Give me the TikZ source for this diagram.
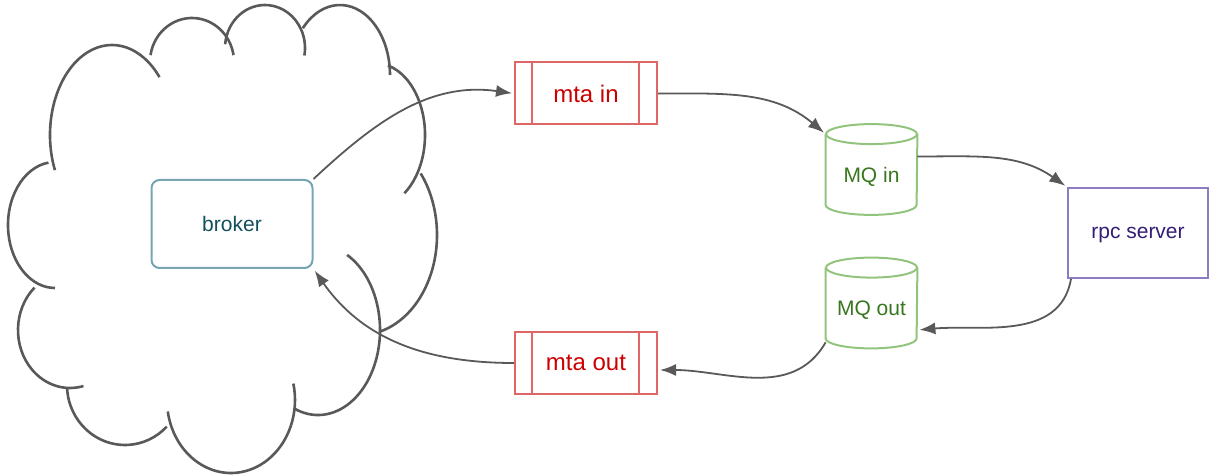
\documentclass[tikz,border=0pt]{standalone}
\usepackage{fontspec}
\setmainfont{Liberation Sans}
\usetikzlibrary{arrows.meta}
\definecolor{wire}{HTML}{595959}
\definecolor{brokeredge}{HTML}{76A5AF}
\definecolor{brokertext}{HTML}{134F5C}
\definecolor{mtaedge}{HTML}{E06666}
\definecolor{mtatext}{HTML}{CC0000}
\definecolor{mqedge}{HTML}{93C47D}
\definecolor{mqtext}{HTML}{38761D}
\definecolor{rpcedge}{HTML}{8E7CC3}
\definecolor{rpctext}{HTML}{351C75}
\tikzset{
  >={Latex[length=8pt,width=6pt]},
}
\tikzstyle{cloudline}=[line width=1.3pt,wire]
\tikzstyle{flow}=[->,line width=0.9pt,wire,shorten >=1pt]
\tikzstyle{every node}=[font=\fontsize{10.5}{12}\selectfont]
\tikzstyle{brokerbox}=[draw=brokeredge,line width=1pt,rounded corners=4pt,text=brokertext,minimum width=80.5pt,minimum height=44pt]
\tikzstyle{mtabox}=[draw=mtaedge,line width=1pt,text=mtatext,minimum width=71pt,minimum height=31pt,font=\fontsize{12}{14}\selectfont]
\tikzstyle{mqbody}=[text=mqtext,minimum width=45.5pt,minimum height=40pt,inner sep=0pt,text depth=0pt]
\tikzstyle{drum}=[line width=1pt,mqedge]
\tikzstyle{serverbox}=[draw=rpcedge,line width=1pt,text=rpctext,minimum width=70pt,minimum height=45pt,text depth=0pt]

\begin{document}
\begin{tikzpicture}[x=0.5pt,y=-0.5pt]
  \useasboundingbox (0,0) rectangle (1210,475);
  % the cloud, one arc per bump
  \foreach \cx/\cy/\rx/\ry/\s/\e in {55/225/47/63/262/90, 112/135/62/90/157/320,
      192/62/42/44/189/351, 265/48/40/43/185/370, 340/75/50/70/222/360,
      375/135/50/72/-75/54, 360/235/77/100/-38/75, 318/330/62/85/112/-62,
      231/400/64/73/171/-13, 125/385/58/60/177/44, 70/330/52/58/227/75}
    \draw[cloudline] (\cx,\cy) ++(\s:{\rx} and {\ry})
      arc[start angle=\s,end angle=\e,x radius=\rx,y radius=\ry];

  \node[brokerbox] (broker) at (232,224) {broker};
  \node[mtabox] (mtain) at (586,93.5) {mta in};
  \node[mtabox] (mtaout) at (586,363) {mta out};
  \node[mqbody] (mqin) at (871.5,174.5) {MQ in};
  \node[mqbody] (mqout) at (871.5,308) {MQ out};
  \node[serverbox] (rpc) at (1138,233) {rpc server};

  \foreach \m in {mtain,mtaout} {
    \draw[mtaedge,line width=1pt] ([xshift=9pt]\m.north west) -- ([xshift=9pt]\m.south west);
    \draw[mtaedge,line width=1pt] ([xshift=-9.5pt]\m.north east) -- ([xshift=-9.5pt]\m.south east);
  }
  \foreach \q in {mqin,mqout} {
    \draw[drum] (\q.north west) -- ([yshift=5pt]\q.south west)
      arc[start angle=180,end angle=360,x radius=22.75pt,y radius=5pt] -- (\q.north east);
    \draw[drum] (\q.north) ellipse[x radius=22.75pt,y radius=5pt];
  }

  \draw[flow] (broker.north east) to[out=43,in=172] (mtain.west);
  \draw[flow] (mtain.east) to[out=0,in=140] (mqin.north west);
  \draw[flow] ([yshift=9pt]mqin.east) to[out=0,in=145] (rpc.north west);
  \draw[flow] ([xshift=2pt]rpc.south west) to[out=-100,in=5] ([yshift=-11pt]mqout.east);
  \draw[flow] ([yshift=3pt]mqout.south west) to[out=-120,in=0] ([yshift=-3.5pt]mtaout.east);
  \draw[flow] (mtaout.west) to[out=180,in=-55] (broker.south east);
\end{tikzpicture}
\end{document}
